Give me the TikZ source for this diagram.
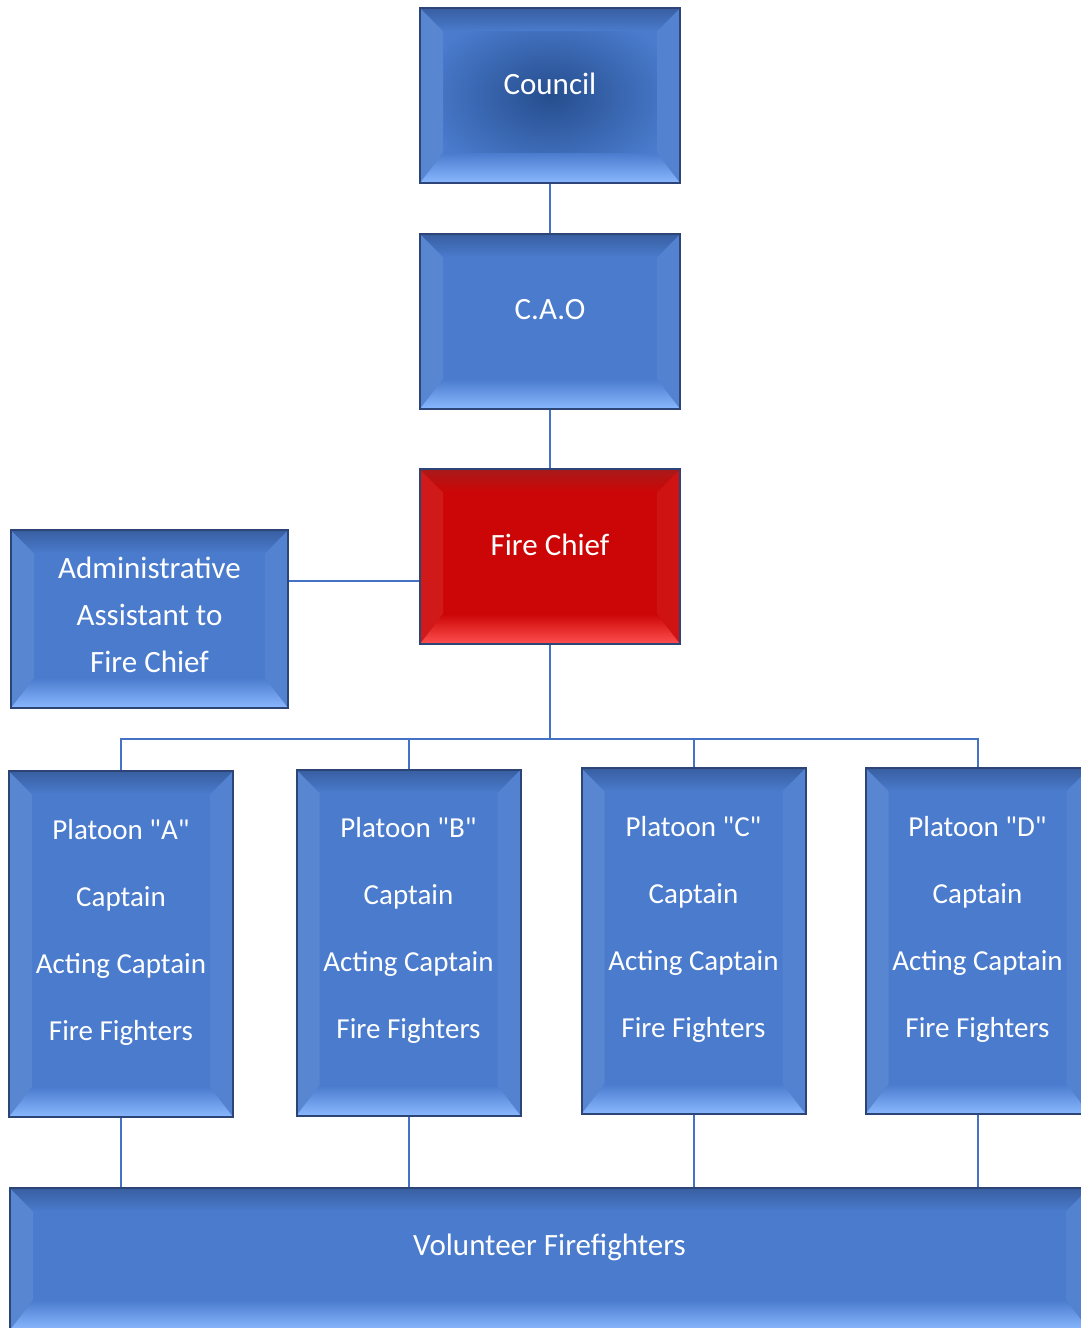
\documentclass[tikz,border=0pt]{standalone}
\usepackage{fontspec}
\setmainfont{Carlito}[Ligatures=TeXOff]
\usetikzlibrary{positioning}

\definecolor{boxblue}{RGB}{74,123,205}
\definecolor{boxlight}{RGB}{138,184,255}
\definecolor{boxdark}{RGB}{56,94,160}
\definecolor{councilmid}{RGB}{38,78,142}
\definecolor{chiefred}{RGB}{204,6,6}
\definecolor{chieflight}{RGB}{255,80,80}
\definecolor{chiefdark}{RGB}{168,26,26}
\definecolor{boxedge}{RGB}{44,68,118}
\definecolor{linkblue}{RGB}{68,114,196}

\tikzset{
  bevelbox/.style n args={3}{draw=boxedge, line width=2pt, fill=#1, inner sep=0pt,
    path picture={
      \coordinate (bb1) at (path picture bounding box.north west);
      \coordinate (bb2) at (path picture bounding box.south east);
      \coordinate (in1) at ([xshift=23,yshift=-23]bb1);
      \coordinate (in2) at ([xshift=-23,yshift=30]bb2);
      \fill[#1!92!white] (bb1) -- (in1) -- (in1 |- in2) -- (bb1 |- bb2) -- cycle;
      \fill[#1!95!white] (bb1 -| bb2) -- (in1 -| in2) -- (in2) -- (bb2) -- cycle;
      \shade[top color=#3, bottom color=#1] (bb1) -- (bb1 -| bb2) -- (in1 -| in2) -- (in1) -- cycle;
      \shade[top color=#1, bottom color=#2] (bb1 |- bb2) -- (bb2) -- (in2) -- (in1 |- in2) -- cycle;
    }},
  blueBox/.style={bevelbox={boxblue}{boxlight}{boxdark}},
  redBox/.style={bevelbox={chiefred}{chieflight}{chiefdark}},
  boxtext/.style={text=white, font=\fontsize{31}{36}\selectfont, align=center, yshift=12},
  link/.style={draw=linkblue, line width=2pt},
}

\begin{document}
\begin{tikzpicture}[x=1pt,y=-1pt]
\useasboundingbox (0,0) rectangle (1081,1328);
\clip (0,0) rectangle (1081,1328);

\node[blueBox, inner color=councilmid, outer color=boxblue, minimum width=260, minimum height=175,
  label={[boxtext]center:Council}] (council) at (550,95.5) {};
\node[blueBox, minimum width=260, minimum height=175,
  label={[boxtext]center:C.A.O}] (cao) at (550,321.5) {};
\node[redBox, minimum width=260, minimum height=175,
  label={[boxtext]center:Fire Chief}] (chief) at (550,556.5) {};
\node[blueBox, minimum width=277, minimum height=178,
  label={[boxtext, yshift=-8, font=\fontsize{31}{47}\selectfont]center:{Administrative\\Assistant to\\Fire Chief}}] (admin) at (149.5,619) {};

\foreach \n/\x/\y/\l in {platA/121/944/A, platB/408.5/942.5/B, platC/693.5/941/C, platD/977.5/941/D}
  \node[blueBox, minimum width=224, minimum height=346,
    label={[boxtext, yshift=0, font=\fontsize{29}{67}\selectfont]center:{Platoon "\l"\\Captain\\Acting Captain\\Fire Fighters}}] (\n) at (\x,\y) {};

\node[blueBox, minimum width=1079, minimum height=142,
  label={[boxtext]center:Volunteer Firefighters}] (vol) at (549.5,1259) {};

% connectors
\draw[link] (council) -- (cao);
\draw[link] (cao) -- (chief);
\draw[link] ([yshift=38]admin.east) -- ([yshift=38]admin.east -| chief.west);
\coordinate (bus) at ([yshift=-94]chief.south);
\draw[link] (chief.south) -- (bus);
\foreach \n in {platA,platB,platC,platD} {
  \draw[link] (bus) -| (\n.north);
  \draw[link] (\n.south) -- (\n.south |- vol.north);
}
\end{tikzpicture}
\end{document}
